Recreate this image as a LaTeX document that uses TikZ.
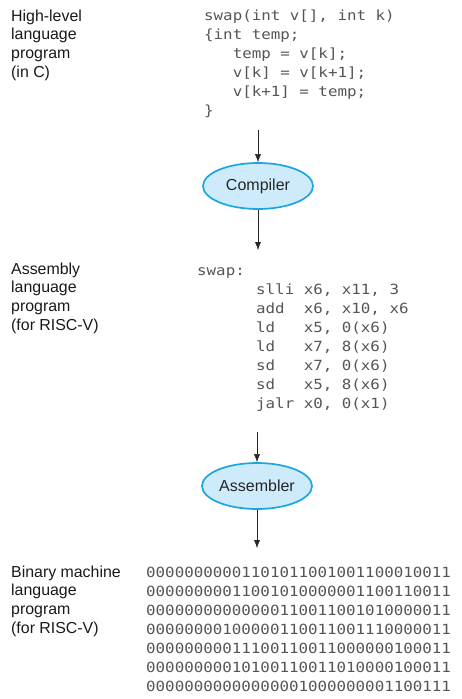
\documentclass[tikz,border=0pt]{standalone}
\usepackage{fontspec}
\setmainfont{Liberation Sans}
\setmonofont[FakeStretch=1.13]{DejaVu Sans Mono}
\usetikzlibrary{shapes,arrows.meta}

\definecolor{ovalfill}{HTML}{CDEBFA}
\definecolor{ovalline}{HTML}{1BA6E0}
\definecolor{codegray}{HTML}{555555}

\tikzset{
  lbl/.style={anchor=base west,inner sep=0pt,align=left,
    font=\fontsize{15.9}{18.8}\selectfont,text=black!90},
  code/.style={anchor=base west,inner sep=0pt,align=left,
    font=\fontsize{14}{19}\selectfont\ttfamily,text=codegray},
  oval/.style={ellipse,draw=ovalline,fill=ovalfill,line width=1.7pt,
    minimum width=110pt,minimum height=46pt,inner sep=0pt,
    font=\fontsize{16}{18}\selectfont,text=black!85},
  >={Latex[length=8pt,width=6pt]}
}

\begin{document}
\begin{tikzpicture}[x=1pt,y=-1pt]
 \useasboundingbox (0,0) rectangle (462,699);

 % C source (base anchor = last line)
 \node[lbl] (Lhll) at (11,77.4) {High-level\\language\\program\\(in C)};
 \node[code] (Csrc) at (204,115) {swap(int~v[],~int~k)\\
  \{int~temp;\\
  \phantom{xxx}temp~=~v[k];\\
  \phantom{xxx}v[k]~=~v[k+1];\\
  \phantom{xxx}v[k+1]~=~temp;\\
  \}};

 \node[oval] (Comp) at (258,186) {Compiler};
 \coordinate (c1) at (258,130);
 \coordinate (c2) at (258,250);
 \draw[->,black!85] (c1) -- (Comp);
 \draw[->,black!85] (Comp) -- (c2);

 % assembly
 \node[lbl] (Lasm) at (11,330.4) {Assembly\\language\\program\\(for RISC-V)};
 \node[code] (Aswap) at (197,275) {swap:};
 \node[code] (Asm) at (256,408) {slli~x6,~x11,~3\\
  add~~x6,~x10,~x6\\
  ld~~~x5,~0(x6)\\
  ld~~~x7,~8(x6)\\
  sd~~~x7,~0(x6)\\
  sd~~~x5,~8(x6)\\
  jalr~x0,~0(x1)};

 \node[oval] (Asmb) at (257,486) {Assembler};
 \coordinate (a1) at (257,432);
 \coordinate (a2) at (257,548);
 \draw[->,black!85] (a1) -- (Asmb);
 \draw[->,black!85] (Asmb) -- (a2);

 % machine code
 \node[lbl] (Lbin) at (11,633.4) {Binary machine\\language\\program\\(for RISC-V)};
 \node[code] (Bin) at (146,691) {00000000001101011001001100010011\\
  00000000011001010000001100110011\\
  00000000000000110011001010000011\\
  00000000100000110011001110000011\\
  00000000011100110011000000100011\\
  00000000010100110011010000100011\\
  00000000000000001000000001100111};
\end{tikzpicture}
\end{document}
